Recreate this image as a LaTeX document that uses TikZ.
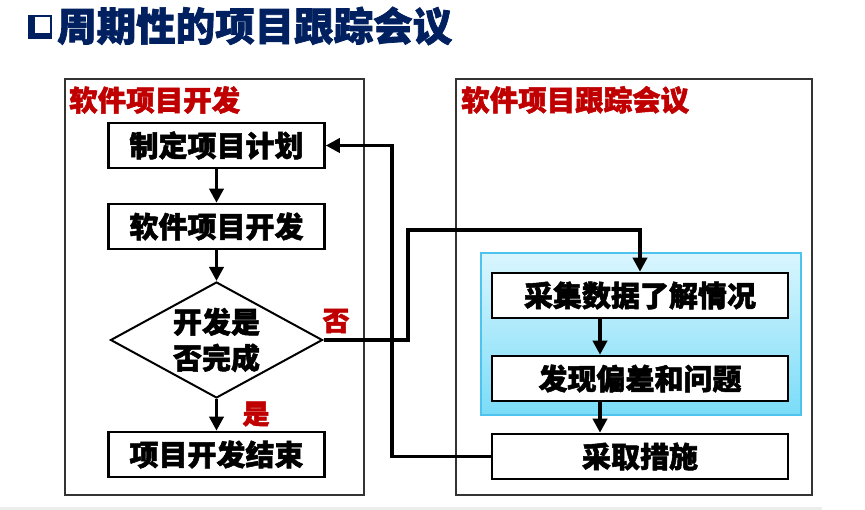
\documentclass[tikz,border=0pt]{standalone}
\usepackage{fontspec}
\setmainfont{Noto Sans CJK SC}[BoldFeatures={FakeBold=1.8}]
\usetikzlibrary{arrows.meta,shapes.geometric}
\definecolor{navy}{HTML}{002060}
\definecolor{dred}{HTML}{C00000}
\definecolor{bluetop}{HTML}{DAF6FE}
\definecolor{bluebot}{HTML}{7ADCF8}
\definecolor{blueedge}{HTML}{4EC3EE}
\begin{document}
\begin{tikzpicture}[x=1pt,y=-1pt,
  box/.style={draw=black, line width=2.5pt, fill=white, minimum width=216pt, minimum height=45pt, inner sep=0pt, font=\bfseries\fontsize{29}{29}\selectfont},
  rbox/.style={box, minimum width=296pt},
  panel/.style={draw=black!80, line width=2pt},
  plabel/.style={anchor=west, inner sep=0pt, text=dred, font=\bfseries\fontsize{28.5}{28.5}\selectfont},
  yn/.style={inner sep=0pt, text=dred, font=\bfseries\fontsize{27}{27}\selectfont},
  conn/.style={line width=3.5pt, -{Triangle[length=14pt,width=14pt]}},
  dia/.style={draw=black, line width=2pt, diamond, minimum width=212pt, minimum height=116pt, inner sep=0pt, fill=white},
  bluebg/.style={draw=blueedge, line width=1.5pt, top color=bluetop, bottom color=bluebot, minimum width=320pt, minimum height=162pt, inner sep=0pt}
]
\useasboundingbox (0,0) rectangle (865,510);
\fill[white] (0,0) rectangle (865,510);
\fill[black!7] (0,507) rectangle (822,510);

% title
\fill[navy] (28,15) rectangle (52,39);
\fill[white] (35,17) rectangle (50,33);
\node[anchor=west, inner sep=0pt, text=navy, font=\bfseries\fontsize{39.5}{39.5}\selectfont] (title) at (57,26) {周期性的项目跟踪会议};

% panels
\draw[panel] (65,79) rectangle (364,495);
\draw[panel] (456,79) rectangle (812,495);
\node[plabel] (llab) at (69,100) {软件项目开发};
\node[plabel] (rlab) at (461,100) {软件项目跟踪会议};

% blue background
\node[bluebg] (blue) at (641,334) {};

% left flow
\node[box] (plan) at (216.5,145.5) {制定项目计划};
\node[box] (dev) at (216.5,226.5) {软件项目开发};
\node[dia] (q) at (216.5,340) {};
\node[align=center, inner sep=0pt, font=\bfseries\fontsize{29}{36}\selectfont] (qt) at (216.5,340) {开发是\\否完成};
\node[box] (end) at (216.5,454.5) {项目开发结束};

% right flow
\node[rbox] (collect) at (640,295.5) {采集数据了解情况};
\node[rbox] (find) at (640,378.5) {发现偏差和问题};
\node[rbox] (act) at (640,456.5) {采取措施};

% labels
\node[yn] (no) at (336,321) {否};
\node[yn] (yes) at (256,414) {是};

% connectors
\draw[conn] (plan.south) -- (dev.north);
\draw[conn] (dev.south) -- (q.north);
\draw[conn] (q.south) -- (end.north);
\draw[conn] ([xshift=-40pt]collect.south) -- ([xshift=-40pt]find.north);
\draw[conn] ([xshift=-40pt]find.south) -- ([xshift=-40pt]act.north);

\coordinate (j1) at (408,230);
\draw[conn] (q.east) -| (j1) -| (collect.north);
\coordinate (j2) at (392,145.5);
\draw[conn] (act.west) -| (j2) -- (plan.east);
\end{tikzpicture}
\end{document}
